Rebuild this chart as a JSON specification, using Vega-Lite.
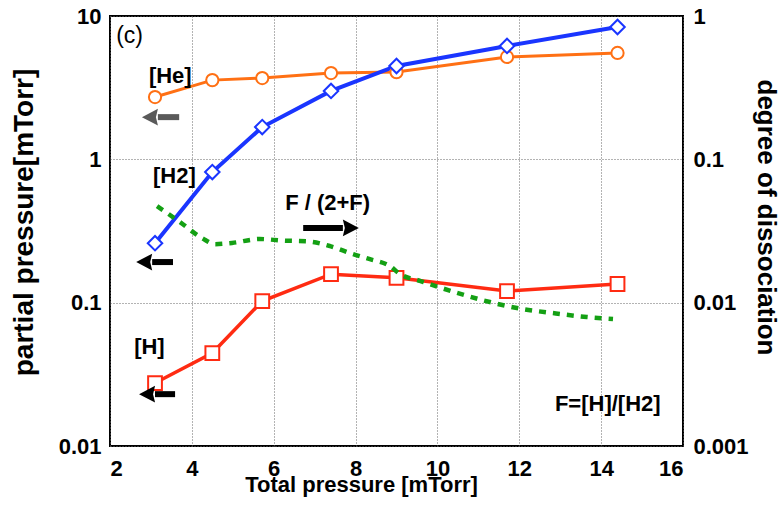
{
  "$schema": "https://vega.github.io/schema/vega-lite/v6.json",
  "width": 573,
  "height": 430,
  "autosize": "none",
  "padding": {"left": 110, "top": 16, "right": 98, "bottom": 71},
  "background": "white",
  "config": {
    "font": "Liberation Sans",
    "view": {"stroke": "black", "strokeWidth": 2},
    "axis": {
      "domain": false,
      "ticks": false,
      "labelFont": "Liberation Sans",
      "labelFontSize": 22,
      "labelFontWeight": "bold",
      "labelColor": "black",
      "titleFont": "Liberation Sans",
      "titleFontWeight": "bold",
      "titleColor": "black",
      "gridColor": "#666",
      "gridDash": [1, 2],
      "gridWidth": 1
    }
  },
  "datasets": {
    "partial": [
      {"gas": "He", "p": 3.1, "v": 2.72},
      {"gas": "He", "p": 4.5, "v": 3.57},
      {"gas": "He", "p": 5.72, "v": 3.69},
      {"gas": "He", "p": 7.4, "v": 4.0},
      {"gas": "He", "p": 9.0, "v": 4.06},
      {"gas": "He", "p": 11.7, "v": 5.18},
      {"gas": "He", "p": 14.4, "v": 5.52},
      {"gas": "H2", "p": 3.1, "v": 0.26},
      {"gas": "H2", "p": 4.5, "v": 0.815},
      {"gas": "H2", "p": 5.72, "v": 1.68},
      {"gas": "H2", "p": 7.4, "v": 3.0},
      {"gas": "H2", "p": 9.0, "v": 4.48},
      {"gas": "H2", "p": 11.7, "v": 6.18},
      {"gas": "H2", "p": 14.4, "v": 8.38},
      {"gas": "H", "p": 3.1, "v": 0.0275},
      {"gas": "H", "p": 4.5, "v": 0.0445},
      {"gas": "H", "p": 5.72, "v": 0.1026},
      {"gas": "H", "p": 7.4, "v": 0.158},
      {"gas": "H", "p": 9.0, "v": 0.149},
      {"gas": "H", "p": 11.7, "v": 0.1205},
      {"gas": "H", "p": 14.4, "v": 0.135}
    ],
    "dissociation": [
      {"p": 3.15, "d": 0.0472},
      {"p": 3.71, "d": 0.0365},
      {"p": 4.25, "d": 0.0282},
      {"p": 4.57, "d": 0.0256},
      {"p": 4.98, "d": 0.0261},
      {"p": 5.66, "d": 0.0278},
      {"p": 6.23, "d": 0.0271},
      {"p": 6.81, "d": 0.0268},
      {"p": 7.38, "d": 0.0248},
      {"p": 7.94, "d": 0.0218},
      {"p": 8.35, "d": 0.0201},
      {"p": 8.84, "d": 0.018},
      {"p": 9.09, "d": 0.0158},
      {"p": 9.57, "d": 0.0142},
      {"p": 10.48, "d": 0.0117},
      {"p": 11.28, "d": 0.0101},
      {"p": 12.09, "d": 0.00902},
      {"p": 12.82, "d": 0.00846},
      {"p": 13.65, "d": 0.00794},
      {"p": 14.29, "d": 0.00769}
    ],
    "arrows": [
      {"series": "He", "side": "left", "p": 2.78, "pb": 3.17, "pt": 3.69, "v": 1.97},
      {"series": "H2", "side": "left", "p": 2.64, "pb": 3.03, "pt": 3.54, "v": 0.192},
      {"series": "H", "side": "left", "p": 2.71, "pb": 3.1, "pt": 3.59, "v": 0.023},
      {"series": "ratio", "side": "right", "p": 8.08, "pb": 7.69, "pt": 6.72, "v": 0.332}
    ],
    "notes": [
      {"label": "[He]", "p": 2.95, "v": 3.81},
      {"label": "[H2]", "p": 3.05, "v": 0.765},
      {"label": "[H]", "p": 2.59, "v": 0.049},
      {"label": "F / (2+F)", "p": 6.28, "v": 0.495},
      {"label": "F=[H]/[H2]", "p": 12.87, "v": 0.0196}
    ],
    "decadeTicks": [
      {"v": 0.01}, {"v": 0.02}, {"v": 0.03}, {"v": 0.04}, {"v": 0.05}, {"v": 0.06}, {"v": 0.07}, {"v": 0.08}, {"v": 0.09},
      {"v": 0.1}, {"v": 0.2}, {"v": 0.3}, {"v": 0.4}, {"v": 0.5}, {"v": 0.6}, {"v": 0.7}, {"v": 0.8}, {"v": 0.9},
      {"v": 1}, {"v": 2}, {"v": 3}, {"v": 4}, {"v": 5}, {"v": 6}, {"v": 7}, {"v": 8}, {"v": 9}, {"v": 10}
    ],
    "pressureTicks": [{"p": 4}, {"p": 6}, {"p": 8}, {"p": 10}, {"p": 12}, {"p": 14}]
  },
  "layer": [
    {
      "encoding": {
        "x": {
          "field": "p",
          "type": "quantitative",
          "scale": {"domain": [2, 16], "nice": false, "zero": false},
          "axis": {
            "orient": "bottom",
            "values": [2, 4, 6, 8, 10, 12, 14, 16],
            "format": "d",
            "labelPadding": 12,
            "grid": true,
            "title": "Total pressure [mTorr]",
            "titleFontSize": 22,
            "titleX": 251,
            "titleY": 28
          }
        },
        "y": {
          "field": "v",
          "type": "quantitative",
          "scale": {"type": "log", "domain": [0.01, 10], "nice": false},
          "axis": {
            "orient": "left",
            "values": [0.01, 0.1, 1, 10],
            "format": "~g",
            "labelPadding": 9,
            "grid": true,
            "title": "partial pressure[mTorr]",
            "titleFontSize": 28,
            "titleX": -72,
            "titleY": 206
          }
        }
      },
      "layer": [
        {
          "data": {"name": "partial"},
          "transform": [{"filter": "datum.gas === 'He'"}],
          "mark": {"type": "line", "color": "#ff7014", "strokeWidth": 3}
        },
        {
          "data": {"name": "partial"},
          "transform": [{"filter": "datum.gas === 'H2'"}],
          "mark": {"type": "line", "color": "#1a35ff", "strokeWidth": 4}
        },
        {
          "data": {"name": "partial"},
          "transform": [{"filter": "datum.gas === 'H'"}],
          "mark": {"type": "line", "color": "#ff2b12", "strokeWidth": 3.5}
        },
        {
          "data": {"name": "partial"},
          "transform": [{"filter": "datum.gas === 'He'"}],
          "mark": {"type": "point", "shape": "circle", "size": 150, "filled": true, "fill": "white", "stroke": "#ff7014", "strokeWidth": 2, "opacity": 1}
        },
        {
          "data": {"name": "partial"},
          "transform": [{"filter": "datum.gas === 'H2'"}],
          "mark": {"type": "point", "shape": "diamond", "size": 210, "filled": true, "fill": "white", "stroke": "#1a35ff", "strokeWidth": 2, "opacity": 1}
        },
        {
          "data": {"name": "partial"},
          "transform": [{"filter": "datum.gas === 'H'"}],
          "mark": {"type": "point", "shape": "square", "size": 190, "filled": true, "fill": "white", "stroke": "#ff2b12", "strokeWidth": 2, "opacity": 1}
        },
        {
          "data": {"name": "arrows"},
          "mark": {"type": "rule", "strokeWidth": 6},
          "encoding": {
            "x": {"field": "pb", "type": "quantitative"},
            "x2": {"field": "pt"},
            "color": {"field": "series", "type": "nominal", "scale": {"domain": ["He", "H2", "H", "ratio"], "range": ["#5a5a5a", "black", "black", "black"]}, "legend": null}
          }
        },
        {
          "data": {"name": "arrows"},
          "mark": {"type": "point", "filled": true, "size": 256, "opacity": 1, "strokeWidth": 0},
          "encoding": {
            "color": {"field": "series", "type": "nominal", "scale": {"domain": ["He", "H2", "H", "ratio"], "range": ["#5a5a5a", "black", "black", "black"]}, "legend": null},
            "shape": {"field": "side", "type": "nominal", "scale": {"domain": ["left", "right"], "range": ["M0,0L2,-1.05L1.75,0L2,1.05Z", "M0,0L-2,-1.05L-1.75,0L-2,1.05Z"]}, "legend": null}
          }
        },
        {
          "data": {"name": "notes"},
          "mark": {"type": "text", "align": "left", "baseline": "middle", "font": "Liberation Sans", "fontSize": 22, "fontWeight": "bold", "color": "black"},
          "encoding": {"text": {"field": "label"}}
        },
        {
          "data": {"values": [{"label": "(c)", "p": 2.15, "v": 7.3}]},
          "mark": {"type": "text", "align": "left", "baseline": "middle", "font": "Liberation Sans", "fontSize": 23, "color": "black"},
          "encoding": {"text": {"field": "label"}}
        },
        {
          "data": {"name": "decadeTicks"},
          "transform": [{"filter": "abs(log(datum.v)/LN10 - round(log(datum.v)/LN10)) < 0.001"}],
          "mark": {"type": "rule", "strokeWidth": 2, "stroke": "black"},
          "encoding": {"x": {"datum": 2, "type": "quantitative"}, "x2": {"datum": 2.32}, "y": {"field": "v", "type": "quantitative"}}
        },
        {
          "data": {"name": "decadeTicks"},
          "transform": [{"filter": "abs(log(datum.v)/LN10 - round(log(datum.v)/LN10)) >= 0.001"}],
          "mark": {"type": "rule", "strokeWidth": 2, "stroke": "black"},
          "encoding": {"x": {"datum": 2, "type": "quantitative"}, "x2": {"datum": 2.17}, "y": {"field": "v", "type": "quantitative"}}
        },
        {
          "data": {"name": "decadeTicks"},
          "transform": [{"filter": "abs(log(datum.v)/LN10 - round(log(datum.v)/LN10)) < 0.001"}],
          "mark": {"type": "rule", "strokeWidth": 2, "stroke": "black"},
          "encoding": {"x": {"datum": 15.68, "type": "quantitative"}, "x2": {"datum": 16}, "y": {"field": "v", "type": "quantitative"}}
        },
        {
          "data": {"name": "decadeTicks"},
          "transform": [{"filter": "abs(log(datum.v)/LN10 - round(log(datum.v)/LN10)) >= 0.001"}],
          "mark": {"type": "rule", "strokeWidth": 2, "stroke": "black"},
          "encoding": {"x": {"datum": 15.83, "type": "quantitative"}, "x2": {"datum": 16}, "y": {"field": "v", "type": "quantitative"}}
        },
        {
          "data": {"name": "pressureTicks"},
          "mark": {"type": "rule", "strokeWidth": 2, "stroke": "black"},
          "encoding": {"x": {"field": "p", "type": "quantitative"}, "y": {"datum": 0.01, "type": "quantitative"}, "y2": {"datum": 0.0123}}
        },
        {
          "data": {"name": "pressureTicks"},
          "mark": {"type": "rule", "strokeWidth": 2, "stroke": "black"},
          "encoding": {"x": {"field": "p", "type": "quantitative"}, "y": {"datum": 10, "type": "quantitative"}, "y2": {"datum": 8.24}}
        }
      ]
    },
    {
      "data": {"name": "dissociation"},
      "mark": {"type": "line", "color": "#14a014", "strokeWidth": 4.5, "strokeDash": [7, 7], "interpolate": "monotone"},
      "encoding": {
        "x": {
          "field": "p",
          "type": "quantitative",
          "scale": {"domain": [2, 16], "nice": false, "zero": false},
          "axis": null
        },
        "y": {
          "field": "d",
          "type": "quantitative",
          "scale": {"type": "log", "domain": [0.001, 1], "nice": false},
          "axis": {
            "orient": "right",
            "values": [0.001, 0.01, 0.1, 1],
            "format": "~g",
            "labelPadding": 10,
            "grid": false,
            "title": "degree of dissociation",
            "titleFontSize": 26,
            "titleX": 69,
            "titleY": 201
          }
        }
      }
    }
  ],
  "resolve": {
    "scale": {"y": "independent"},
    "axis": {"x": "independent", "y": "independent"}
  }
}
